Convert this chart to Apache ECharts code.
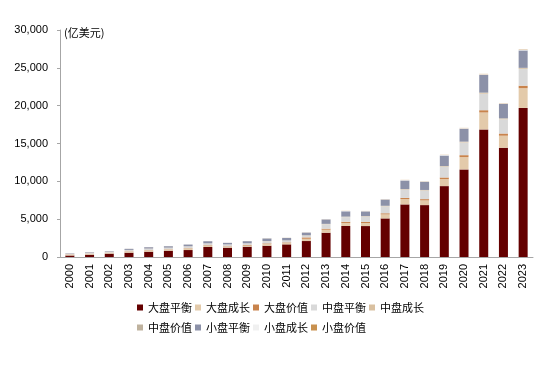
<!DOCTYPE html>
<html>
<head>
<meta charset="utf-8">
<script src="https://cdn.jsdelivr.net/npm/echarts@6/dist/echarts.min.js"></script>
<style>
html, body { margin: 0; padding: 0; background: #fff; }
#chart { width: 550px; height: 377px; }
</style>
</head>
<body>
<div id="chart"></div>
<script>
// 年份
const years = ['2000','2001','2002','2003','2004','2005','2006','2007','2008','2009','2010','2011',
    '2012','2013','2014','2015','2016','2017','2018','2019','2020','2021','2022','2023']

// 各风格规模 (亿美元)
const largeBlend  = [200,300,440,570,700,830,920,1320,1230,1360,1490,1670,2110,3210,4100,4090,5100,6950,6860,9370,11580,16860,14430,19700]
const largeGrowth = [120,120,110,150,170,160,200,170,130,150,220,170,300,400,400,400,530,700,620,920,1620,2240,1600,2610]
const largeValue  = [30,30,30,40,40,40,50,70,60,80,90,90,180,130,150,150,150,170,170,220,260,300,290,330]
const midBlend    = [90,100,100,150,180,180,220,220,220,200,280,240,240,590,620,700,920,1080,1130,1420,1680,2180,1880,2200]
const midGrowth   = [15,15,15,20,20,20,20,20,20,15,20,20,25,30,40,40,40,50,50,60,70,90,80,100]
const midValue    = [10,10,10,10,10,10,10,10,10,10,10,10,15,20,30,30,30,30,30,40,40,60,50,60]
const smallBlend  = [50,70,70,140,180,190,230,280,200,280,340,320,360,590,700,620,830,1130,1080,1380,1700,2330,1900,2300]
const smallGrowth = [10,10,10,15,15,15,15,15,15,15,20,20,25,30,40,40,50,60,60,70,80,100,90,120]
const smallValue  = [5,5,5,5,5,5,5,5,5,5,10,10,10,10,15,15,15,20,20,20,30,40,30,40]

const seriesNames = ['大盘平衡','大盘成长','大盘价值','中盘平衡','中盘成长','中盘价值','小盘平衡','小盘成长','小盘价值']
const seriesData = [largeBlend, largeGrowth, largeValue, midBlend, midGrowth, midValue, smallBlend, smallGrowth, smallValue]
const colors = ['#640000','#E3CAAA','#C8834C','#D9D9D9','#D9C0A0','#BFB29E','#8C91A8','#F0F0F0','#C8914F']

const chart = echarts.init(document.getElementById('chart'))
const numFont = 'Liberation Sans, Arial, sans-serif'
const cjkFont = 'Noto Sans CJK SC, sans-serif'

const legendBase = {
    left: 137,
    padding: 0,
    icon: 'rect',
    itemWidth: 6,
    itemHeight: 6,
    itemGap: 3,
    textStyle: { fontSize: 11, color: '#000', fontFamily: cjkFont }
}

const option = {
    animation: false,
    color: colors,
    grid: { left: 60, right: 17, top: 30, bottom: 120, containLabel: false },
    legend: [
        Object.assign({ top: 302, data: seriesNames.slice(0, 5) }, legendBase),
        Object.assign({ top: 322, data: seriesNames.slice(5) }, legendBase)
    ],
    graphic: [{
        type: 'text',
        left: 64,
        top: 27,
        style: { text: '(亿美元)', fontSize: 11, fill: '#000', fontFamily: cjkFont }
    }],
    xAxis: {
        type: 'category',
        data: years,
        axisLine: { lineStyle: { color: '#A6A6A6', width: 1 } },
        axisTick: { length: 4, lineStyle: { color: '#A6A6A6' } },
        axisLabel: { rotate: 90, margin: 7, fontSize: 11, color: '#000', fontFamily: numFont, interval: 0 }
    },
    yAxis: {
        type: 'value',
        min: 0,
        max: 30000,
        interval: 5000,
        splitLine: { show: false },
        axisLine: { show: true, lineStyle: { color: '#A6A6A6', width: 1 } },
        axisTick: { show: true, length: 3, lineStyle: { color: '#A6A6A6' } },
        axisLabel: {
            margin: 12, fontSize: 11, color: '#000', fontFamily: numFont,
            formatter: v => v.toLocaleString('en-US')
        }
    },
    series: seriesNames.map((name, i) => ({
        name: name,
        type: 'bar',
        stack: 'total',
        barWidth: 9,
        data: seriesData[i]
    }))
}

chart.setOption(option)
</script>
</body>
</html>
